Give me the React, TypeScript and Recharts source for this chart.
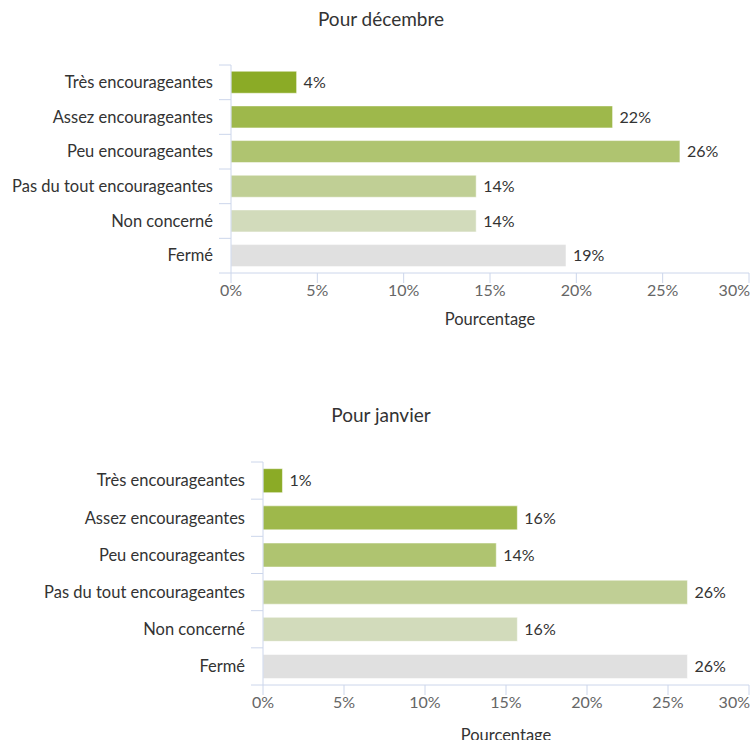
import { Bar, BarChart, Cell, Label, LabelList, XAxis, YAxis } from "recharts";

const categories = [
  "Très encourageantes",
  "Assez encourageantes",
  "Peu encourageantes",
  "Pas du tout encourageantes",
  "Non concerné",
  "Fermé",
];
const decemberValues = [3.8, 22.1, 26.0, 14.2, 14.2, 19.4];
const januaryValues = [1.2, 15.7, 14.4, 26.2, 15.7, 26.2];
const barColors = ["#8bab26", "#9eb84b", "#afc470", "#c0cf95", "#d2dbbb", "#e0e0e0"];
const percentTicks = [0, 5, 10, 15, 20, 25, 30];

const FONT = "Lato, 'DejaVu Sans', sans-serif";
const AXIS_COLOR = "#ccd6eb";

interface PanelProps {
  title: string;
  values: number[];
  top: number;
  height: number;
  axisX: number;
  marginTop: number;
  xAxisHeight: number;
  marginBottom: number;
  labelOffset: number;
}

function Panel({ title, values, top, height, axisX, marginTop, xAxisHeight, marginBottom, labelOffset }: PanelProps) {
  const data = categories.map((name, i) => ({ name, value: values[i] }));
  const plotHeight = height - marginTop - xAxisHeight - marginBottom;
  const band = plotHeight / categories.length;

  const CategoryTick = (props: any) => {
    const { x, y, payload, index } = props;
    return (
      <g>
        <line x1={axisX - 12} x2={axisX} y1={y - band / 2} y2={y - band / 2} stroke={AXIS_COLOR} />
        {index === categories.length - 1 && (
          <line x1={axisX - 12} x2={axisX} y1={y + band / 2} y2={y + band / 2} stroke={AXIS_COLOR} />
        )}
        <text x={x} y={y} dy="0.35em" textAnchor="end" fill="#333" fontSize={16.5} fontFamily={FONT}>
          {payload.value}
        </text>
      </g>
    );
  };

  const PercentTick = (props: any) => {
    const { x, y, payload } = props;
    const last = payload.value === percentTicks[percentTicks.length - 1];
    return (
      <text
        x={last ? x + 1 : x}
        y={y}
        dy="0.71em"
        textAnchor={last ? "end" : "middle"}
        fill="#666"
        fontSize={16}
        fontFamily={FONT}
      >
        {payload.value}%
      </text>
    );
  };

  return (
    <div style={{ position: "absolute", left: 0, top, width: 750, height }}>
      <div
        style={{
          position: "absolute",
          left: 381,
          top: 7,
          transform: "translateX(-50%)",
          fontFamily: FONT,
          fontSize: 19,
          color: "#333",
          whiteSpace: "nowrap",
        }}
      >
        {title}
      </div>
      <BarChart
        width={750}
        height={height}
        data={data}
        layout="vertical"
        barCategoryGap="18%"
        margin={{ top: marginTop, right: 1, left: 0, bottom: marginBottom }}
      >
        <XAxis
          type="number"
          domain={[0, 30]}
          ticks={percentTicks}
          height={xAxisHeight}
          stroke={AXIS_COLOR}
          tickSize={10}
          tickMargin={2}
          tick={<PercentTick />}
          interval={0}
        >
          <Label
            value="Pourcentage"
            position="insideBottom"
            offset={labelOffset}
            fill="#333"
            fontSize={16.5}
            fontFamily={FONT}
          />
        </XAxis>
        <YAxis
          type="category"
          dataKey="name"
          width={axisX}
          stroke={AXIS_COLOR}
          tickLine={false}
          tickSize={12}
          tickMargin={6}
          tick={<CategoryTick />}
          interval={0}
        />
        <Bar dataKey="value" isAnimationActive={false} stroke="#ffffff" strokeOpacity={0.5}>
          {data.map((entry, i) => (
            <Cell key={entry.name} fill={barColors[i]} />
          ))}
          <LabelList
            dataKey="value"
            position="right"
            offset={7}
            formatter={(v: any) => `${Math.round(Number(v))}%`}
            fill="#333"
            fontSize={16}
            fontFamily={FONT}
          />
        </Bar>
      </BarChart>
    </div>
  );
}

export default function App() {
  return (
    <div style={{ position: "absolute", left: 0, top: 0, width: 750, height: 740, background: "#fff", overflow: "hidden" }}>
      <Panel
        title="Pour décembre"
        values={decemberValues}
        top={0}
        height={340}
        axisX={231}
        marginTop={65}
        xAxisHeight={60}
        marginBottom={7}
        labelOffset={8}
      />
      <Panel
        title="Pour janvier"
        values={januaryValues}
        top={396}
        height={344}
        axisX={263}
        marginTop={66}
        xAxisHeight={55}
        marginBottom={0}
        labelOffset={-1}
      />
    </div>
  );
}
